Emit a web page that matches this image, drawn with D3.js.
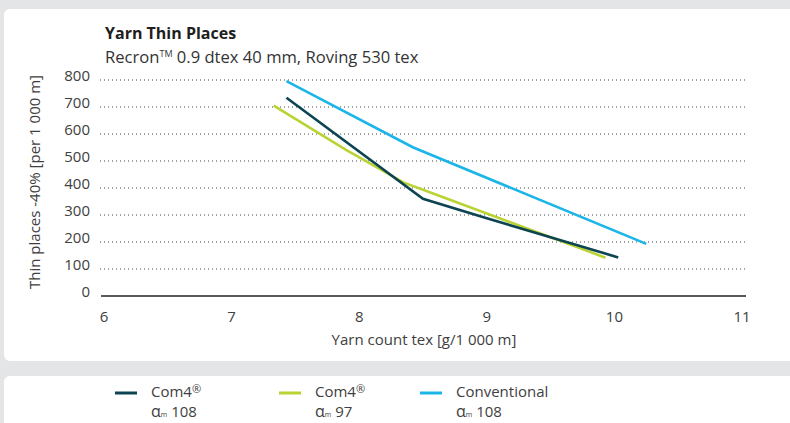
<!DOCTYPE html>
<html>
<head>
<meta charset="utf-8">
<script src="https://cdn.jsdelivr.net/npm/d3@7"></script>
<style>
  html, body { margin: 0; padding: 0; background: #e4e5e7; }
  svg { display: block; font-family: "Open Sans", Lato, sans-serif; }
</style>
</head>
<body>
<svg id="chart"></svg>
<script>
// Yarn thin places vs yarn count
const xTicks = [6, 7, 8, 9, 10, 11];
const yTicks = [0, 100, 200, 300, 400, 500, 600, 700, 800];

const com4_108_x = [7.43, 8.5, 9.0, 10.03];
const com4_108_y = [734, 360, 288, 143];
const com4_97_x = [7.33, 7.9, 8.35, 8.7, 9.93];
const com4_97_y = [705, 540, 420, 358, 142];
const conv_108_x = [7.43, 8.42, 10.25];
const conv_108_y = [796, 551, 193];

const seriesNames = ['Com4', 'Com4', 'Conventional'];
const seriesReg = [true, true, false];
const seriesAlpha = ['108', '97', '108'];
const seriesColors = ['#0c4452', '#b9d334', '#1cb5e8'];

const W = 790, H = 423;
const txt = '#404040';
const fs = 15;
const svg = d3.select('#chart').attr('width', W).attr('height', H);

// cards
svg.append('rect').attr('x', 4).attr('y', 9).attr('width', 820).attr('height', 352)
  .attr('rx', 6).attr('fill', '#fff');
svg.append('rect').attr('x', 4).attr('y', 376).attr('width', 820).attr('height', 80)
  .attr('rx', 6).attr('fill', '#fff');

const x = d3.scaleLinear().domain([6, 11]).range([104, 742]);
const y = d3.scaleLinear().domain([0, 800]).range([296, 80]);

// title
svg.append('text').attr('x', 105).attr('y', 39)
  .attr('font-size', 16).attr('font-weight', 'bold').attr('fill', '#1e1e1e')
  .text('Yarn Thin Places');
const sub = svg.append('text').attr('x', 105).attr('y', 63)
  .attr('font-size', 16.6).attr('fill', '#333');
sub.append('tspan').text('Recron');
sub.append('tspan').attr('font-size', 9).attr('dy', -6).text('TM');
sub.append('tspan').attr('dy', 6).text(' 0.9 dtex 40 mm, Roving 530 tex');

// gridlines
svg.append('g').selectAll('line')
  .data(yTicks.filter(d => d > 0))
  .enter().append('line')
  .attr('x1', 100).attr('x2', 748)
  .attr('y1', d => y(d)).attr('y2', d => y(d))
  .attr('stroke', '#444').attr('stroke-width', 1)
  .attr('stroke-dasharray', '1,3');

// x axis line
svg.append('line').attr('x1', 101).attr('x2', 746)
  .attr('y1', y(0)).attr('y2', y(0))
  .attr('stroke', '#222').attr('stroke-width', 1.3);

// y tick labels
svg.append('g').selectAll('text')
  .data(yTicks)
  .enter().append('text')
  .attr('x', 90).attr('y', d => y(d) + 1)
  .attr('text-anchor', 'end').attr('font-size', fs).attr('fill', txt)
  .text(d => d);

// x tick labels
svg.append('g').selectAll('text')
  .data(xTicks)
  .enter().append('text')
  .attr('x', d => x(d)).attr('y', 322)
  .attr('text-anchor', 'middle').attr('font-size', fs).attr('fill', txt)
  .text(d => d);

// axis titles
svg.append('text').attr('x', 424).attr('y', 345)
  .attr('text-anchor', 'middle').attr('font-size', fs).attr('fill', txt)
  .text('Yarn count tex [g/1 000 m]');
svg.append('text')
  .attr('transform', 'translate(40,182) rotate(-90)')
  .attr('text-anchor', 'middle').attr('font-size', fs).attr('fill', txt)
  .text('Thin places -40% [per 1 000 m]');

// lines
const series = [
  d3.zip(com4_108_x, com4_108_y),
  d3.zip(com4_97_x, com4_97_y),
  d3.zip(conv_108_x, conv_108_y)
];
const line = d3.line().x(d => x(d[0])).y(d => y(d[1]));
[1, 0, 2].forEach(i => {
  svg.append('path')
    .attr('d', line(series[i]))
    .attr('fill', 'none')
    .attr('stroke', seriesColors[i])
    .attr('stroke-width', 2.6);
});

// legend
const legX = [115, 279, 420];
const legend = svg.append('g');
seriesNames.forEach((name, i) => {
  legend.append('line')
    .attr('x1', legX[i]).attr('x2', legX[i] + 22)
    .attr('y1', 393).attr('y2', 393)
    .attr('stroke', seriesColors[i]).attr('stroke-width', 3);
  const n = legend.append('text')
    .attr('x', legX[i] + 36).attr('y', 397)
    .attr('font-size', fs).attr('fill', txt);
  n.append('tspan').text(name);
  if (seriesReg[i]) n.append('tspan').attr('font-size', 11).attr('dy', -4).text('®');
  const t = legend.append('text')
    .attr('x', legX[i] + 36).attr('y', 417)
    .attr('font-size', fs).attr('fill', txt);
  t.append('tspan').attr('font-size', 16).text('α');
  t.append('tspan').attr('font-size', 7).text('m');
  t.append('tspan').text(' ' + seriesAlpha[i]);
});
</script>
</body>
</html>
